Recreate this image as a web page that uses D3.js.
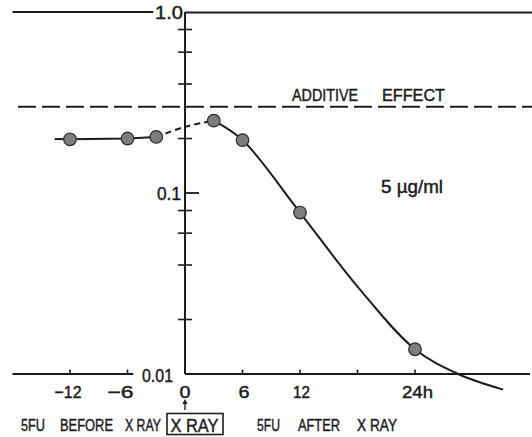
<!DOCTYPE html>
<html><head><meta charset="utf-8">
<script src="https://cdn.jsdelivr.net/npm/d3@7"></script>
<style>
html,body{margin:0;padding:0;background:#fff;}
svg{display:block;}
text{font-family:"Liberation Sans",Arial,sans-serif;fill:#1c1c1c;stroke:#1c1c1c;stroke-width:0.45;}
</style>
</head><body>
<svg id="c" width="532" height="437"></svg>
<script>
// ---- data ----
const pointHours = [-12, -6, -3, 3, 6, 12, 24];
const pointValues = [0.198, 0.2, 0.204, 0.251, 0.196, 0.078, 0.0137];
const beforeHours = [-13.6, -12, -6, -3];
const beforeValues = [0.199, 0.198, 0.2, 0.204];
const bridgeHours = [-3, 0, 3];
const bridgeValues = [0.204, 0.232, 0.251];
const afterHours = [3, 6, 12, 18, 24, 28.5, 33.2];
const afterValues = [0.251, 0.196, 0.078, 0.0304, 0.0137, 0.01, 0.0082];
const additiveEffect = 0.3;
const xTickValues = [-12, -6, 6, 12, 18, 24];
const xTickLabels = ["\u221212", "\u22126", "6", "12", "", "24h"];
const yMajorTicks = [1, 0.1, 0.01];
const yMajorLabels = ["1.0", "0.1", "0.01"];
const yMinorTicks = [0.8, 0.6, 0.4, 0.2, 0.08, 0.06, 0.04, 0.02];

// ---- scales ----
const svg = d3.select("#c");
const x = d3.scaleLinear().domain([-12, 24]).range([70, 415]);
const y = d3.scaleLog().domain([0.01, 1]).range([374, 12]);
const ink = "#1c1c1c";
const x0 = x(0);

function seg(x1, y1, x2, y2, w) {
  svg.append("line").attr("x1", x1).attr("y1", y1).attr("x2", x2).attr("y2", y2)
    .attr("stroke", ink).attr("stroke-width", w || 2);
}

// frame lines
seg(x0, y(1), x0, y(0.01), 2);
seg(x(-18), y(1), x(-3.3), y(1), 2);
seg(x0, y(1) + 0.5, 532, y(1) + 0.5, 2);
seg(x(-18), y(0.01), x(-5.4), y(0.01), 2);
seg(x0, y(0.01), x(36), y(0.01), 2);

// additive effect line
svg.append("line")
  .attr("x1", 18).attr("x2", 532)
  .attr("y1", y(additiveEffect)).attr("y2", y(additiveEffect))
  .attr("stroke", ink).attr("stroke-width", 2).attr("stroke-dasharray", "18,6");

// y ticks
yMinorTicks.forEach(v => seg(x0 - 7, y(v), x0 + 7, y(v), 1.6));
seg(x0, y(0.1), x0 + 14, y(0.1), 1.8);

const yLab = [{s: 155, w: 28, b: 19}, {s: 157, w: 24, b: 199.5}, {s: 142, w: 31, b: 382}];
yMajorTicks.forEach((v, i) => {
  svg.append("text").attr("x", yLab[i].s).attr("y", y(v) + (yLab[i].b - y(v)))
    .attr("font-size", 18).attr("textLength", yLab[i].w).attr("lengthAdjust", "spacingAndGlyphs")
    .text(yMajorLabels[i]);
});

// x ticks
xTickValues.forEach((h, i) => {
  seg(x(h), y(0.01), x(h), y(0.01) - 4.5, 1.6);
  if (xTickLabels[i]) {
    const t = xTickLabels[i];
    let dx = h < 0 ? (h === -6 ? -7 : -2) : 1.5;
    if (t === "24h") dx = 2.5;
    const w = {"\u221212": 27, "\u22126": 26, "6": 11, "12": 17, "24h": 31}[t];
    svg.append("text").attr("x", x(h) + dx - w / 2).attr("y", 397.5)
      .attr("font-size", 17).attr("textLength", w).attr("lengthAdjust", "spacingAndGlyphs").text(t);
  }
});
svg.append("text").attr("x", x0 - 5.5).attr("y", 397.5).attr("font-size", 17)
  .attr("textLength", 11).attr("lengthAdjust", "spacingAndGlyphs").text("0");

// arrow under 0
seg(x0, 410, x0, 402, 1.4);
svg.append("path").attr("d", `M${x0},399 L${x0 - 2.6},404 L${x0 + 2.6},404 Z`).attr("fill", ink);

// X RAY box
svg.append("rect").attr("x", 167).attr("y", 413.5).attr("width", 56).attr("height", 21)
  .attr("fill", "none").attr("stroke", ink).attr("stroke-width", 1.6);
svg.append("text").attr("x", 170.5).attr("y", 431.5).attr("font-size", 19)
  .attr("textLength", 48).attr("lengthAdjust", "spacingAndGlyphs").text("X RAY");

// captions
function word(t, s, w, b, fs) {
  svg.append("text").attr("x", s).attr("y", b).attr("font-size", fs)
    .attr("textLength", w).attr("lengthAdjust", "spacingAndGlyphs").text(t);
}
word("5FU", 21, 24, 430.5, 17);
word("BEFORE", 60, 53, 430.5, 17);
word("X RAY", 125, 36, 430.5, 17);
word("5FU", 257, 23, 430.5, 17);
word("AFTER", 298, 42, 430.5, 17);
word("X RAY", 357, 40, 430.5, 17);
word("ADDITIVE", 292, 66, 100.5, 17);
word("EFFECT", 382, 63, 100.5, 17);
word("5 \u00b5g/ml", 381, 62, 193, 17.5);

// curves
const line = d3.line().x(d => x(d[0])).y(d => y(d[1]));
svg.append("path").datum(d3.zip(beforeHours, beforeValues))
  .attr("d", line.curve(d3.curveLinear)).attr("fill", "none").attr("stroke", ink).attr("stroke-width", 2);
svg.append("path").datum(d3.zip(bridgeHours, bridgeValues))
  .attr("d", line.curve(d3.curveCatmullRom)).attr("fill", "none").attr("stroke", ink)
  .attr("stroke-width", 2).attr("stroke-dasharray", "6,4");
svg.append("path").datum(d3.zip(afterHours, afterValues))
  .attr("d", line.curve(d3.curveCatmullRom)).attr("fill", "none").attr("stroke", ink).attr("stroke-width", 2);

// points
svg.selectAll("circle.pt").data(d3.zip(pointHours, pointValues)).enter().append("circle")
  .attr("class", "pt").attr("cx", d => x(d[0])).attr("cy", d => y(d[1])).attr("r", 6.3)
  .attr("fill", "#7d7d7d").attr("stroke", "#2a2a2a").attr("stroke-width", 1.2);
</script>
</body></html>
